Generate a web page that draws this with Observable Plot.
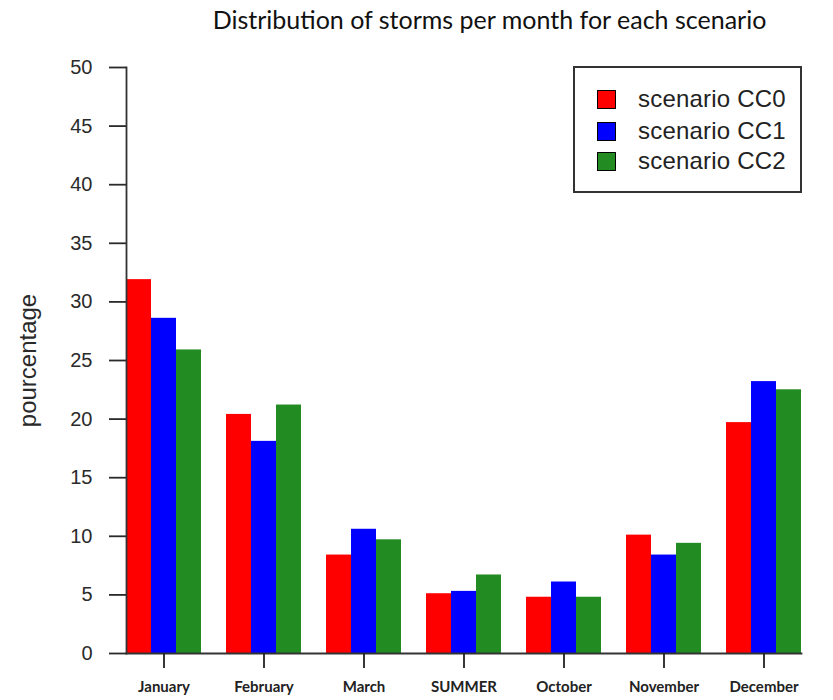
<!DOCTYPE html>
<html>
<head>
<meta charset="utf-8">
<script src="https://cdn.jsdelivr.net/npm/d3@7"></script>
<script src="https://cdn.jsdelivr.net/npm/@observablehq/plot@0.6"></script>
<style>
  html, body { margin: 0; padding: 0; background: #fff; }
  #wrap { position: relative; width: 833px; height: 700px; overflow: hidden; background: #fff; }
  #title { position: absolute; left: 73px; width: 833px; top: 4px; text-align: center;
           font-family: Lato, "Open Sans", sans-serif; font-size: 25px; color: #111; line-height: 30px; white-space: nowrap; }
  #chart { position: absolute; left: 0; top: 40px; }
  #legend { position: absolute; left: 573px; top: 66px; width: 225px; height: 123px;
            border: 2px solid #333; background: #fff; font-family: "Liberation Sans", Arial, sans-serif; }
  .item { position: absolute; left: 22px; height: 30px; display: flex; align-items: center; }
  .sw { width: 17px; height: 17px; border: 1px solid #000; box-sizing: content-box; }
  .lab { margin-left: 22px; font-size: 24px; color: #222; letter-spacing: 0.2px; }
</style>
</head>
<body>
<div id="wrap">
  <div id="title"></div>
  <div id="chart"></div>
  <div id="legend"></div>
</div>
<script>
const titleText = "Distribution of storms per month for each scenario";
const yLabel = "pourcentage";
const months = ["January", "February", "March", "SUMMER", "October", "November", "December"];
const scenarios = ["scenario CC0", "scenario CC1", "scenario CC2"];
const colors = ["#FF0000", "#0000FF", "#228B22"];
const cc0 = [31.9, 20.4, 8.4, 5.1, 4.8, 10.1, 19.7];
const cc1 = [28.6, 18.1, 10.6, 5.3, 6.1, 8.4, 23.2];
const cc2 = [25.9, 21.2, 9.7, 6.7, 4.8, 9.4, 22.5];
const yTicks = [0, 5, 10, 15, 20, 25, 30, 35, 40, 45, 50];

const series = [cc0, cc1, cc2];
const data = [];
months.forEach((m, i) => {
  scenarios.forEach((s, k) => data.push({month: m, scenario: s, value: series[k][i]}));
});

document.getElementById("title").textContent = titleText;

const axisColor = "#333";

const chart = Plot.plot({
  width: 833,
  height: 660,
  marginLeft: 124,
  marginRight: 30,
  marginTop: 27,
  marginBottom: 47,
  style: {fontFamily: "'Liberation Sans', Arial, sans-serif", background: "#fff"},
  fx: {domain: months, paddingInner: 0.25, paddingOuter: 0},
  x: {domain: scenarios, padding: 0, axis: null},
  y: {domain: [0, 50]},
  color: {domain: scenarios, range: colors},
  marks: [
    Plot.barY(data, {fx: "month", x: "scenario", y: "value", fill: "scenario"}),
    Plot.frame({anchor: "bottom", facet: "super", stroke: axisColor, strokeWidth: 1.8}),
    Plot.frame({anchor: "left", facet: "super", stroke: axisColor, strokeWidth: 1.8}),
    Plot.axisY({
      ticks: yTicks, tickSize: 17, tickPadding: 17, fontSize: 20, color: "#2a2a2a", strokeWidth: 1.8,
      label: yLabel, labelAnchor: "center", labelOffset: 108, labelArrow: "none"
    }),
    Plot.axisFx({
      anchor: "bottom", tickSize: 15, tickPadding: 13, fontSize: 15, fontWeight: "bold",
      fontFamily: "Lato, sans-serif", color: "#222", strokeWidth: 1.8, label: null
    })
  ]
});
document.getElementById("chart").appendChild(chart);

// y-axis label font size
chart.querySelectorAll("text").forEach(t => {
  if (t.textContent === yLabel) t.setAttribute("font-size", 24);
});

const legend = document.getElementById("legend");
const rowTops = [16, 48, 78];
scenarios.forEach((s, k) => {
  const item = document.createElement("div");
  item.className = "item";
  item.style.top = rowTops[k] + "px";
  const sw = document.createElement("div");
  sw.className = "sw";
  sw.style.background = colors[k];
  const lab = document.createElement("span");
  lab.className = "lab";
  lab.textContent = s;
  item.appendChild(sw);
  item.appendChild(lab);
  legend.appendChild(item);
});
</script>
</body>
</html>
